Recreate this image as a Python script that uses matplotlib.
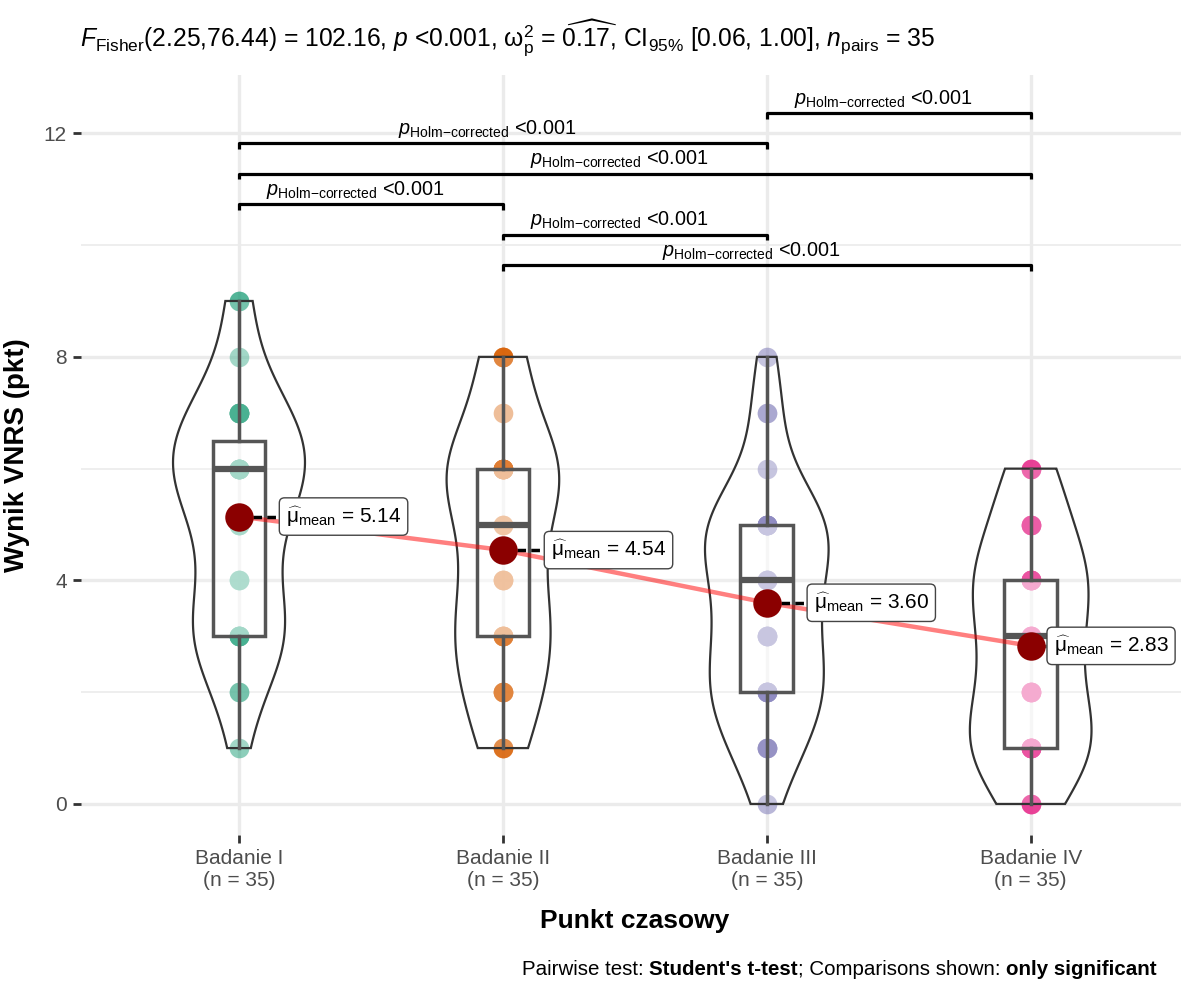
import numpy as np
import matplotlib.pyplot as plt
from matplotlib.patches import Polygon, Rectangle

plt.rcParams['font.family'] = ['Liberation Sans', 'DejaVu Sans']
plt.rcParams['mathtext.fontset'] = 'custom'
plt.rcParams['mathtext.rm'] = 'Liberation Sans'
plt.rcParams['mathtext.it'] = 'Liberation Sans:italic'
plt.rcParams['mathtext.bf'] = 'Liberation Sans:bold'

# VNRS score (0-9) and number of patients with that score at each time point
scores = np.arange(10)
counts_1 = [0, 1, 2, 7, 3, 4, 9, 6, 1, 2]
counts_2 = [0, 3, 4, 6, 4, 3, 10, 1, 4, 0]
counts_3 = [1, 4, 7, 5, 5, 9, 1, 2, 1, 0]
counts_4 = [3, 8, 5, 5, 7, 4, 3, 0, 0, 0]

groups = ['Badanie I', 'Badanie II', 'Badanie III', 'Badanie IV']
colors = ['#1B9E77', '#D95F02', '#7570B3', '#E7298A']

# significant pairwise comparisons (Holm-corrected)
pairs = [(2, 4), (2, 3), (1, 2), (1, 4), (1, 3), (3, 4)]
pair_p = ['<0.001', '<0.001', '<0.001', '<0.001', '<0.001', '<0.001']

title = (r"$F_{\mathrm{Fisher}}$(2.25,76.44) = 102.16, $p$ <0.001, "
         r"$\mathrm{\omega}_{\mathrm{p}}^{2}$ = $\widehat{0.17}$, $\mathrm{CI}_{95\%}$ [0.06, 1.00], "
         r"$n_{\mathrm{pairs}}$ = 35")

data = [np.repeat(scores, c) for c in (counts_1, counts_2, counts_3, counts_4)]


def bw_nrd0(x):
    sd = np.std(x, ddof=1)
    q75, q25 = np.percentile(x, [75, 25])
    lo = min(sd, (q75 - q25) / 1.34)
    return 0.9 * lo * len(x) ** -0.2


def kde(x, grid):
    bw = bw_nrd0(x)
    z = (grid[:, None] - x[None, :]) / bw
    return np.exp(-0.5 * z ** 2).sum(axis=1) / (len(x) * bw * np.sqrt(2 * np.pi))


fig = plt.figure(figsize=(11.81, 9.82), dpi=100)
ax = fig.add_axes([0.0683, 0.150, 0.9385, 0.774])

# violin densities, scaled by area across all groups
grids = [np.linspace(d.min(), d.max(), 512) for d in data]
dens = [kde(d.astype(float), g) for d, g in zip(data, grids)]
dmax = max(d.max() for d in dens)

box_col = '#555555'
means = []
for i, (obs, col, g, d) in enumerate(zip(data, colors, grids, dens), start=1):
    ax.scatter(np.full(len(obs), i), obs, s=200, color=col, alpha=0.5,
               linewidths=0, zorder=2)

    half = 0.25 * d / dmax
    xs = np.concatenate([i - half, (i + half)[::-1]])
    ys = np.concatenate([g, g[::-1]])
    ax.add_patch(Polygon(np.column_stack([xs, ys]), closed=True,
                         facecolor=(1, 1, 1, 0.2), edgecolor='#333333',
                         lw=1.6, zorder=2.5))

    q1, med, q3 = np.percentile(obs, [25, 50, 75])
    iqr = q3 - q1
    lo = obs[obs >= q1 - 1.5 * iqr].min()
    hi = obs[obs <= q3 + 1.5 * iqr].max()
    ax.add_patch(Rectangle((i - 0.1, q1), 0.2, q3 - q1, facecolor=(1, 1, 1, 0.5),
                           edgecolor=box_col, lw=2.5, zorder=3))
    ax.plot([i - 0.1, i + 0.1], [med, med], color=box_col, lw=4.5,
            solid_capstyle='butt', zorder=3)
    ax.plot([i, i], [lo, q1], color=box_col, lw=2.5, zorder=3)
    ax.plot([i, i], [q3, hi], color=box_col, lw=2.5, zorder=3)
    means.append(obs.mean())

xpos = np.arange(1, len(groups) + 1)
ax.plot(xpos, means, color='red', alpha=0.5, lw=3.2, zorder=5)

label_offsets = [0.148, 0.152, 0.148, 0.057]
for x, m, off in zip(xpos, means, label_offsets):
    ax.plot([x, x + off], [m, m], color='black', ls='--', dashes=(2.5, 1.5),
            lw=2.5, zorder=5)
    ax.scatter([x], [m], s=420, color='#8B0000', zorder=6, linewidths=0)
    ax.text(x + off + 0.03, m, r"$\widehat{\mathrm{\mu}}_{\mathrm{mean}}$ = %.2f" % m,
            fontsize=15, ha='left', va='center', zorder=7,
            bbox=dict(boxstyle='round,pad=0.32,rounding_size=0.25',
                      facecolor='white', edgecolor='#444444', lw=1))

# pairwise comparison brackets
base, step, tip = 9.64, 0.545, 0.1
for k, ((a, b), p) in enumerate(zip(pairs, pair_p)):
    y = base + k * step
    ax.plot([a, a, b, b], [y - tip, y, y, y - tip], color='black', lw=2.3,
            solid_capstyle='butt', zorder=5)
    ax.text((a + b) / 2 - 0.06, y + 0.06, r"$p_{\mathrm{Holm{-}corrected}}$ " + p,
            fontsize=14.3, ha='center', va='bottom', zorder=5)

ax.set_xlim(0.4, 4.6)
ax.set_ylim(-0.55, 13.05)
ax.set_xticks(xpos)
ax.set_xticklabels(['%s\n(n = %d)' % (name, len(obs)) for name, obs in zip(groups, data)])
ax.set_yticks([0, 4, 8, 12])
ax.set_yticks([2, 6, 10], minor=True)
ax.grid(which='major', color='#EBEBEB', lw=2.4, zorder=0)
ax.grid(which='minor', axis='y', color='#EBEBEB', lw=1.2, zorder=0)
ax.set_axisbelow(True)
for s in ax.spines.values():
    s.set_visible(False)
ax.tick_params(which='major', direction='out', length=6, width=2, color='#333333',
               labelcolor='#4D4D4D', labelsize=15, pad=4)
ax.tick_params(which='minor', length=0)

ax.set_xlabel('Punkt czasowy', fontsize=19, fontweight='bold', labelpad=14)
ax.set_ylabel('Wynik VNRS (pkt)', fontsize=20, fontweight='bold', labelpad=10)

fig.text(80 / 1181, 1 - 38 / 982, title, fontsize=17.7, ha='left', va='center')

# caption with bold parts, laid out piece by piece
pieces = [("Pairwise test: ", 'normal'), ("Student's t-test", 'bold'),
          ("; Comparisons shown: ", 'normal'), ("only significant", 'bold')]
cap_y = 1 - 975 / 982
texts = [fig.text(0, cap_y, txt, fontsize=14.8, fontweight=w, ha='left', va='baseline')
         for txt, w in pieces]
fig.canvas.draw()
renderer = fig.canvas.get_renderer()
x = 522.0
for t in texts:
    t.set_x(x / fig.bbox.width)
    x = t.get_window_extent(renderer).x1

fig.savefig('out.png', dpi=100)
